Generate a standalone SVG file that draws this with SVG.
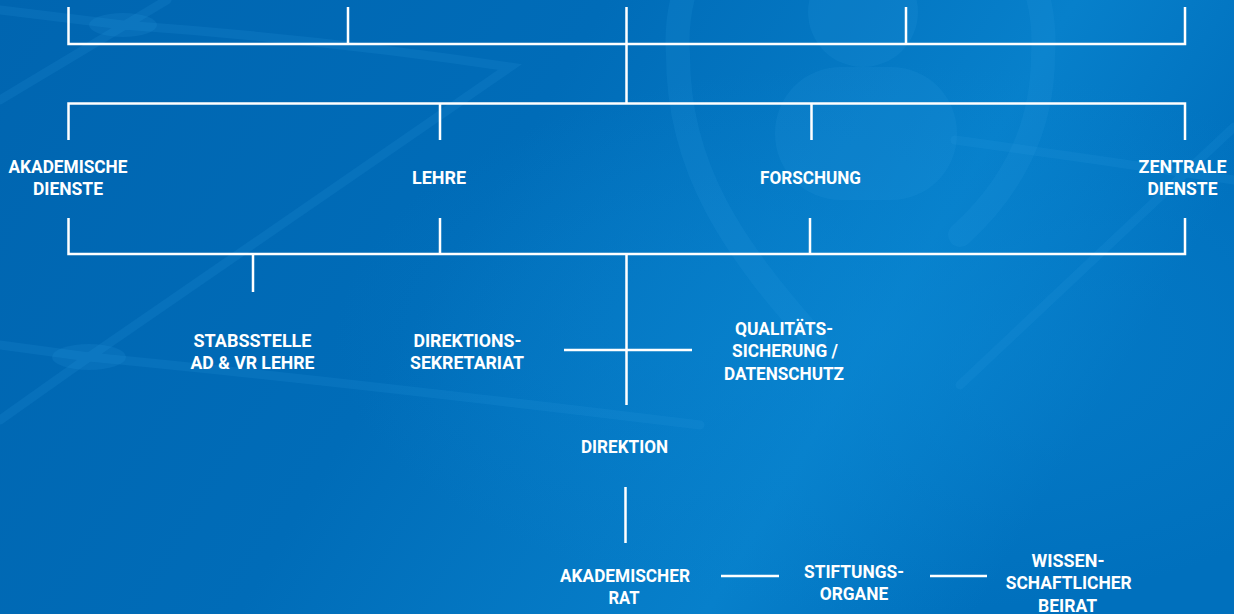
<svg xmlns="http://www.w3.org/2000/svg" width="1234" height="614" viewBox="0 0 1234 614">
<defs>
<linearGradient id="bg" x1="0" y1="0" x2="1" y2="0.3">
<stop offset="0" stop-color="#0065b0"/>
<stop offset="0.45" stop-color="#006cb8"/>
<stop offset="0.8" stop-color="#0780cb"/>
<stop offset="1" stop-color="#0070bd"/>
</linearGradient>
<radialGradient id="glow" cx="0.72" cy="0.55" r="0.45">
<stop offset="0" stop-color="#0a86d2" stop-opacity="0.55"/>
<stop offset="1" stop-color="#0a86d2" stop-opacity="0"/>
</radialGradient>
<style>
.ln{fill:none;stroke:#ffffff;stroke-width:2.5;stroke-linecap:butt;stroke-linejoin:miter}
.dec{fill:none;stroke:#2b9be3;stroke-opacity:0.16;stroke-linecap:round}
.decf{fill:#2b9be3;fill-opacity:0.16}
text{font-family:Roboto,"Liberation Sans",sans-serif;font-weight:700;font-size:18.5px;fill:#ffffff;text-anchor:middle}
</style>
</defs>
<rect width="1234" height="614" fill="url(#bg)"/>
<rect width="1234" height="614" fill="url(#glow)"/>
<g id="decor">
<path class="dec" stroke-width="9" d="M0,10 L123,25 Q330,40 510,67 L89,357 M0,100 L167,0 M0,345 L89,357 M0,420 L89,357 Q330,380 700,425 M1234,127 L960,385 M955,140 Q1100,160 1234,180"/>
<ellipse class="decf" cx="123" cy="25" rx="34" ry="12"/>
<ellipse class="decf" cx="89" cy="357" rx="37" ry="13"/>
<path class="dec" stroke-width="24" d="M815,340 C735,250 678,170 678,55 A183,183 0 1 1 1043,55 C1043,130 1010,190 960,235"/>
<circle class="decf" cx="863" cy="12" r="55"/>
<rect class="decf" x="775" y="67" width="182" height="133" rx="66"/>
</g>
<g id="connectors">
<path class="ln" d="M68.5,7 V44 H1185 V7 M348,7 V44 M906,7 V44 M626.5,7 V103.5"/>
<path class="ln" d="M68.5,140 V103.5 H1185 V140 M440,103.5 V140 M811.5,103.5 V140"/>
<path class="ln" d="M68.5,218 V254 H1185 V218 M440,218 V254 M810,218 V254 M253,254 V292 M626.5,254 V405 M564,350 H692"/>
<path class="ln" d="M625.5,487 V543 M721,576 H779 M930,576 H987"/>
</g>
<g id="akademische-dienste"><text x="68" y="172.7" textLength="119" lengthAdjust="spacingAndGlyphs">AKADEMISCHE</text><text x="68" y="195" textLength="70" lengthAdjust="spacingAndGlyphs">DIENSTE</text></g>
<g id="lehre"><text x="439" y="184" textLength="54" lengthAdjust="spacingAndGlyphs">LEHRE</text></g>
<g id="forschung"><text x="810.5" y="184" textLength="101" lengthAdjust="spacingAndGlyphs">FORSCHUNG</text></g>
<g id="zentrale-dienste"><text x="1182.5" y="173.3" textLength="88" lengthAdjust="spacingAndGlyphs">ZENTRALE</text><text x="1182.5" y="195" textLength="70" lengthAdjust="spacingAndGlyphs">DIENSTE</text></g>
<g id="stabsstelle"><text x="252.5" y="347.3" textLength="118" lengthAdjust="spacingAndGlyphs">STABSSTELLE</text><text x="252.5" y="369" textLength="124" lengthAdjust="spacingAndGlyphs">AD &amp; VR LEHRE</text></g>
<g id="direktionssekretariat"><text x="467.4" y="347.3" textLength="108" lengthAdjust="spacingAndGlyphs">DIREKTIONS-</text><text x="467" y="369" textLength="114" lengthAdjust="spacingAndGlyphs">SEKRETARIAT</text></g>
<g id="qualitaetssicherung"><text x="784" y="335" textLength="98" lengthAdjust="spacingAndGlyphs">QUALITÄTS-</text><text x="785" y="357.3" textLength="106" lengthAdjust="spacingAndGlyphs">SICHERUNG /</text><text x="784" y="380" textLength="120" lengthAdjust="spacingAndGlyphs">DATENSCHUTZ</text></g>
<g id="direktion"><text x="624.5" y="453.3" textLength="87" lengthAdjust="spacingAndGlyphs">DIREKTION</text></g>
<g id="akademischer-rat"><text x="625" y="581.7" textLength="130" lengthAdjust="spacingAndGlyphs">AKADEMISCHER</text><text x="624" y="603.7" textLength="31" lengthAdjust="spacingAndGlyphs">RAT</text></g>
<g id="stiftungsorgane"><text x="854" y="578.3" textLength="100" lengthAdjust="spacingAndGlyphs">STIFTUNGS-</text><text x="854" y="600" textLength="68.5" lengthAdjust="spacingAndGlyphs">ORGANE</text></g>
<g id="wissenschaftlicher-beirat"><text x="1068" y="566.7" textLength="73" lengthAdjust="spacingAndGlyphs">WISSEN-</text><text x="1068.7" y="589.3" textLength="126" lengthAdjust="spacingAndGlyphs">SCHAFTLICHER</text><text x="1067.5" y="611.7" textLength="59" lengthAdjust="spacingAndGlyphs">BEIRAT</text></g>
</svg>
